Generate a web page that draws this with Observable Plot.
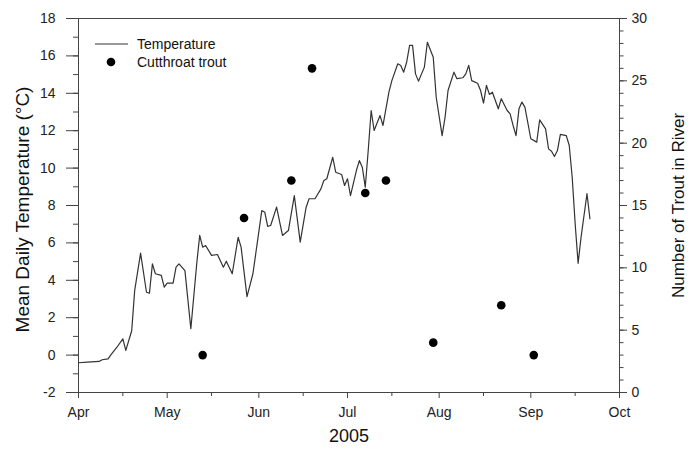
<!DOCTYPE html>
<html><head><meta charset="utf-8">
<script src="https://cdn.jsdelivr.net/npm/d3@7"></script>
<script src="https://cdn.jsdelivr.net/npm/@observablehq/plot@0.6"></script>
<style>body{margin:0;background:#fff;}</style>
</head><body><div id="chart"></div>
<script>
// Daily mean temperature (2005)
const tempDates = ["04-01","04-04","04-08","04-09","04-11","04-12","04-14","04-16","04-17","04-19","04-20","04-22","04-24","04-25","04-26","04-27","04-29","04-30",
"05-01","05-03","05-04","05-05","05-07","05-09","05-11","05-12","05-13","05-14","05-16","05-18","05-20","05-21","05-23","05-25","05-26","05-28","05-30",
"06-02","06-03","06-04","06-05","06-07","06-09","06-11","06-13","06-15","06-17","06-18","06-20","06-22","06-23","06-24","06-26","06-27","06-29","06-30",
"07-01","07-02","07-04","07-05","07-06","07-07","07-08","07-09","07-10","07-12","07-13","07-15","07-16","07-18","07-19","07-20","07-21","07-22","07-23","07-24","07-25","07-27","07-28","07-30","07-31",
"08-02","08-03","08-04","08-06","08-07","08-09","08-10","08-11","08-12","08-14","08-15","08-16","08-17","08-18","08-19","08-21","08-22","08-24","08-25","08-26","08-27","08-28","08-29","08-30",
"09-01","09-03","09-04","09-06","09-07","09-08","09-09","09-10","09-11","09-13","09-14","09-15","09-16","09-17","09-18","09-20","09-21"];
const tempValues = [-0.41,-0.38,-0.34,-0.25,-0.2,0.03,0.42,0.87,0.25,1.3,3.45,5.45,3.36,3.31,4.88,4.35,4.26,3.63,
3.85,3.85,4.7,4.88,4.52,1.41,4.9,6.4,5.77,5.86,5.33,5.38,4.7,5.02,4.35,6.3,5.77,3.13,4.35,
7.73,7.64,6.88,6.93,7.91,6.4,6.66,8.53,6.04,7.91,8.36,8.36,8.89,9.34,9.43,10.58,9.78,9.66,9.07,
9.43,8.53,9.87,10.4,10.05,8.98,10.94,13.08,12.01,12.81,12.28,14.06,14.68,15.58,15.49,15.13,15.66,16.56,16.56,15.04,14.65,15.4,16.73,15.93,13.79,
11.74,12.72,14.15,15.13,14.78,14.83,15.04,15.49,14.68,14.54,14.15,13.47,14.42,13.94,14.06,13.17,13.71,13.08,12.9,12.28,11.74,13.17,13.53,13.26,
11.57,11.39,12.58,12.1,11.03,10.9,10.62,10.94,11.8,11.74,11.21,9.51,7.02,4.91,6.3,8.63,7.29];

// Cutthroat trout counts
const troutDates = ["05-13","05-27","06-12","06-19","07-07","07-14","07-30","08-22","09-02"];
const troutCounts = [3,14,17,26,16,17,4,7,3];

// Axis ticks
const monthTicks = ["04-01","05-01","06-01","07-01","08-01","09-01","10-01"];
const midMonthTicks = ["04-16","05-16","06-16","07-16","08-16","09-16"];
const tempTicks = [-2,0,2,4,6,8,10,12,14,16,18];
const tempMinorTicks = d3.range(-2, 19, 1);
const troutTicks = [0,5,10,15,20,25,30];
const troutMinorTicks = d3.range(0, 31, 1);

const parse = s => d3.utcParse("%Y-%m-%d")("2005-" + s);
const tempData = tempDates.map((d, i) => ({date: parse(d), temp: tempValues[i]}));
const troutData = troutDates.map((d, i) => ({date: parse(d), count: troutCounts[i]}));
// right axis: trout 0..30 maps onto temperature -2..18
const toLeft = c => -2 + c * 20 / 30;
const toCount = v => String(Math.round((v + 2) * 30 / 20));

const font = "'Liberation Sans', Arial, sans-serif";
const chart = Plot.plot({
  width: 695, height: 454,
  marginTop: 18, marginBottom: 62, marginLeft: 78, marginRight: 76,
  style: {fontFamily: font, fontSize: "14px", color: "#222", background: "#fff"},
  x: {type: "utc", domain: [parse("04-01"), parse("10-01")]},
  y: {domain: [-2, 18]},
  marks: [
    Plot.axisY(tempMinorTicks, {tickSize: 5, tickFormat: () => "", label: null, stroke: "#444"}),
    Plot.axisY(tempTicks, {tickSize: 12, tickPadding: 11, tickFormat: d => String(d), label: null, fontSize: 14, stroke: "#444"}),
    Plot.axisY(troutMinorTicks.map(toLeft), {anchor: "right", tickSize: 3.5, tickFormat: () => "", label: null, stroke: "#444"}),
    Plot.axisY(troutTicks.map(toLeft), {anchor: "right", tickSize: 7, tickPadding: 5, tickFormat: toCount, label: null, fontSize: 14, stroke: "#444"}),
    Plot.axisX(midMonthTicks.map(parse), {tickSize: 4, tickFormat: () => "", label: null, stroke: "#444"}),
    Plot.axisX(monthTicks.map(parse), {tickSize: 6, tickPadding: 9, tickFormat: d3.utcFormat("%b"), label: null, fontSize: 14, stroke: "#444"}),
    Plot.frame({stroke: "#444"}),
    Plot.line(tempData, {x: "date", y: "temp", stroke: "#333", strokeWidth: 1.2}),
    Plot.dot(troutData, {x: "date", y: d => toLeft(d.count), r: 4.3, fill: "#000", stroke: "none"}),
    Plot.text(["Mean Daily Temperature (°C)"], {frameAnchor: "left", textAnchor: "middle", rotate: -90, dx: -56, dy: 4, fontSize: 19, fill: "#111"}),
    Plot.text(["Number of Trout in River"], {frameAnchor: "right", textAnchor: "middle", rotate: -90, dx: 59, fontSize: 17, fill: "#111"}),
    Plot.text(["2005"], {frameAnchor: "bottom", dy: 49, fontSize: 18, fill: "#111"})
  ]
});
document.getElementById("chart").appendChild(chart);

// Legend (inside plot, top-left)
const svg = d3.select(chart);
const lg = svg.append("g").attr("font-family", font).attr("font-size", 14).attr("fill", "#111").attr("text-anchor", "start");
lg.append("line").attr("x1", 95).attr("x2", 128).attr("y1", 44).attr("y2", 44).attr("stroke", "#333").attr("stroke-width", 1.2);
lg.append("text").attr("x", 137).attr("y", 44).attr("dy", "0.35em").text("Temperature");
lg.append("circle").attr("cx", 111).attr("cy", 62).attr("r", 4.3).attr("fill", "#000");
lg.append("text").attr("x", 137).attr("y", 62).attr("dy", "0.35em").text("Cutthroat trout");
</script>
</body></html>
